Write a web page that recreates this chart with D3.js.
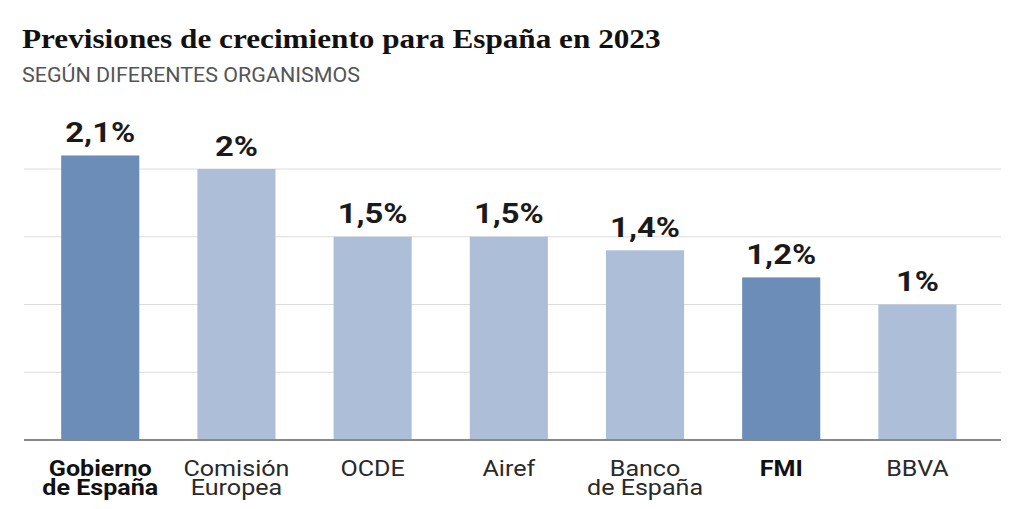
<!DOCTYPE html>
<html><head><meta charset="utf-8">
<script src="https://cdn.jsdelivr.net/npm/d3@7"></script>
<style>body{margin:0;background:#fff}svg{display:block}</style>
</head><body>
<svg id="chart" width="1024" height="509"></svg>
<script>
const categories = ["Gobierno de España","Comisión Europea","OCDE","Airef","Banco de España","FMI","BBVA"];
const labelLines = [["Gobierno","de España"],["Comisión","Europea"],["OCDE"],["Airef"],["Banco","de España"],["FMI"],["BBVA"]];
const values = [2.1, 2, 1.5, 1.5, 1.4, 1.2, 1];
const highlighted = [true, false, false, false, false, true, false];
const gridTicks = [0.5, 1, 1.5, 2];

const svg = d3.select("#chart");
const x = d3.scaleBand().domain(categories).range([24, 1001]).paddingInner(0.4265).paddingOuter(0.3).align(0.455);
const y = d3.scaleLinear().domain([0, 2]).range([440, 169]);
const fmt = d3.formatLocale({decimal: ",", thousands: ".", grouping: [3], currency: ["", "€"]}).format("~r");

svg.append("text").attr("transform", "translate(22,47.5) scale(1.115,1)")
  .attr("font-family", "Liberation Serif").attr("font-weight", "bold").attr("font-size", 28)
  .attr("fill", "#111").text("Previsiones de crecimiento para España en 2023");
svg.append("text").attr("transform", "translate(22,82) scale(1.1,1)")
  .attr("font-family", "Roboto").attr("font-size", 19.5)
  .attr("fill", "#555").text("SEGÚN DIFERENTES ORGANISMOS");

svg.append("g").selectAll("line").data(gridTicks).join("line")
  .attr("x1", 24).attr("x2", 1001).attr("y1", d => y(d)).attr("y2", d => y(d))
  .attr("stroke", "#dcdcdc").attr("stroke-width", 1);

svg.append("g").selectAll("rect").data(values).join("rect")
  .attr("x", (d, i) => x(categories[i])).attr("width", x.bandwidth())
  .attr("y", d => y(d)).attr("height", d => y(0) - y(d))
  .attr("fill", (d, i) => highlighted[i] ? "#6b8db7" : "#adbfd8");

svg.append("line").attr("x1", 24).attr("x2", 1001).attr("y1", y(0)).attr("y2", y(0))
  .attr("stroke", "#888").attr("stroke-width", 2);

svg.append("g").selectAll("text").data(values).join("text")
  .attr("transform", (d, i) => `translate(${x(categories[i]) + x.bandwidth() / 2},${y(d) - 13.5}) scale(1.15,1)`)
  .attr("text-anchor", "middle").attr("font-family", "Roboto").attr("font-weight", "bold")
  .attr("font-size", 28.5).attr("fill", "#1a1a1a")
  .text(d => fmt(d).replace(".", ",") + "%");

const cat = svg.append("g").selectAll("text").data(labelLines).join("text")
  .attr("text-anchor", "middle").attr("font-family", "Roboto")
  .attr("font-weight", (d, i) => highlighted[i] ? "bold" : "normal")
  .attr("font-size", 22).attr("fill", (d, i) => highlighted[i] ? "#111" : "#2a2a2a")
  .attr("transform", (d, i) => `translate(${x(categories[i]) + x.bandwidth() / 2},476) scale(1.14,1)`);
cat.selectAll("tspan").data(d => d).join("tspan")
  .attr("x", 0).attr("dy", (d, j) => j === 0 ? 0 : 19).text(d => d);
</script>
</body></html>
